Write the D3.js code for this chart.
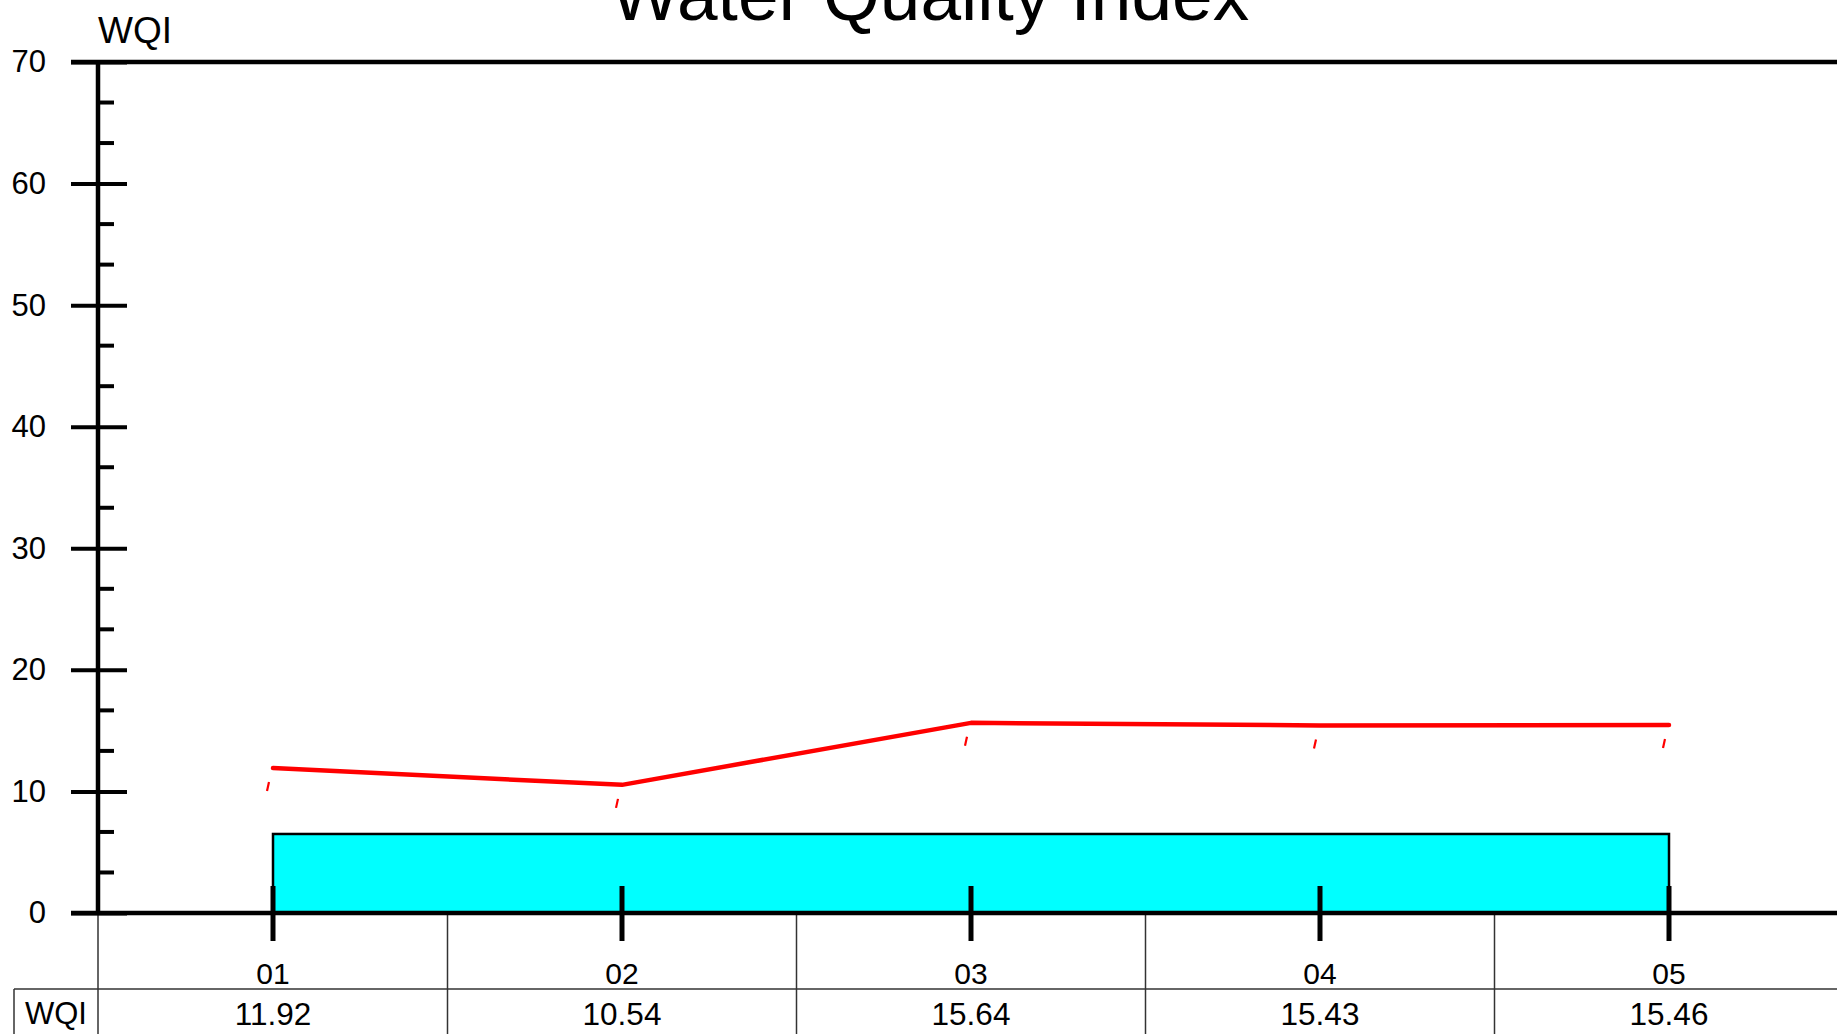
<!DOCTYPE html>
<html>
<head>
<meta charset="utf-8">
<script src="https://cdn.jsdelivr.net/npm/d3@7"></script>
<style>
  body { margin: 0; background: #fff; overflow: hidden; }
  svg { display: block; font-family: "Liberation Sans", Arial, sans-serif; }
</style>
</head>
<body>
<svg id="chart" width="1837" height="1034"></svg>
<script>
// chart values
const categories = ["01", "02", "03", "04", "05"];
const wqiValues = [11.92, 10.54, 15.64, 15.43, 15.46];
const bandValue = 6.5; // cyan band across all samples
const yMajorTicks = [0, 10, 20, 30, 40, 50, 60, 70];
const rowLabel = "WQI";

const W = 1837, H = 1034;
const axisX = 98;
const svg = d3.select("#chart");

const y = d3.scaleLinear().domain([0, 70]).range([913, 62]);
const x = d3.scalePoint().domain(categories).range([273, 1669]);
const step = x.step();

// title
svg.append("text")
    .attr("x", 930).attr("y", 20)
    .attr("text-anchor", "middle")
    .style("font-size", "73px")
    .text("Water Quality Index");

// y axis title
svg.append("text")
    .attr("x", axisX).attr("y", 43)
    .style("font-size", "37px")
    .text("WQI");

// cyan band
svg.append("rect")
    .attr("x", x(categories[0]))
    .attr("y", y(bandValue))
    .attr("width", x(categories[categories.length - 1]) - x(categories[0]))
    .attr("height", y(0) - y(bandValue))
    .attr("fill", "#00ffff")
    .attr("stroke", "#000")
    .attr("stroke-width", 2.5);

// table grid
const grid = svg.append("g").attr("stroke", "#333").attr("stroke-width", 1.5);
grid.append("line").attr("x1", axisX).attr("x2", axisX).attr("y1", y(0)).attr("y2", H);
categories.forEach(c => {
    grid.append("line")
        .attr("x1", x(c) + step / 2).attr("x2", x(c) + step / 2)
        .attr("y1", y(0)).attr("y2", H);
});
grid.append("line").attr("x1", 14).attr("x2", W).attr("y1", 989).attr("y2", 989);
grid.append("line").attr("x1", 14).attr("x2", 14).attr("y1", 989).attr("y2", H);

// y axis
const yAxis = svg.append("g")
    .attr("transform", `translate(${axisX},0)`)
    .call(d3.axisLeft(y).tickValues(yMajorTicks).tickFormat(d3.format("d")).tickSize(0).tickPadding(52));
yAxis.select(".domain").remove();
yAxis.selectAll(".tick line")
    .attr("x1", -27).attr("x2", 29)
    .attr("stroke", "#000").attr("stroke-width", 4);
yAxis.selectAll(".tick text")
    .style("font-size", "31px")
    .attr("fill", "#000");

// minor ticks (thirds between labelled ticks)
const minor = [];
yMajorTicks.slice(0, -1).forEach(t => { minor.push(t + 10 / 3, t + 20 / 3); });
svg.append("g").selectAll("line")
    .data(minor)
    .join("line")
    .attr("x1", axisX).attr("x2", axisX + 16)
    .attr("y1", d => y(d)).attr("y2", d => y(d))
    .attr("stroke", "#000").attr("stroke-width", 4);

// axis lines
svg.append("line").attr("x1", axisX).attr("x2", axisX).attr("y1", y(70)).attr("y2", y(0))
    .attr("stroke", "#000").attr("stroke-width", 4.5);
svg.append("line").attr("x1", 71).attr("x2", W).attr("y1", y(70)).attr("y2", y(70))
    .attr("stroke", "#000").attr("stroke-width", 4.5);
svg.append("line").attr("x1", 71).attr("x2", W).attr("y1", y(0)).attr("y2", y(0))
    .attr("stroke", "#000").attr("stroke-width", 4.5);

// x ticks
svg.append("g").selectAll("line")
    .data(categories)
    .join("line")
    .attr("x1", d => x(d)).attr("x2", d => x(d))
    .attr("y1", 886).attr("y2", 941)
    .attr("stroke", "#000").attr("stroke-width", 5);

// red WQI line
const line = d3.line().x((d, i) => x(categories[i])).y(d => y(d));
svg.append("path")
    .datum(wqiValues)
    .attr("d", line)
    .attr("fill", "none")
    .attr("stroke", "#ff0000")
    .attr("stroke-width", 4.5)
    .attr("stroke-linejoin", "round")
    .attr("stroke-linecap", "round");

// small red marks under each point
svg.append("g").selectAll("line")
    .data(wqiValues)
    .join("line")
    .attr("x1", (d, i) => x(categories[i]) - 6).attr("y1", d => y(d) + 23)
    .attr("x2", (d, i) => x(categories[i]) - 4).attr("y2", d => y(d) + 14)
    .attr("stroke", "#ff0000").attr("stroke-width", 2.2);

// table text
svg.append("g").selectAll("text")
    .data(categories)
    .join("text")
    .attr("x", d => x(d)).attr("y", 984)
    .attr("text-anchor", "middle")
    .style("font-size", "30px")
    .text(d => d);
svg.append("g").selectAll("text")
    .data(wqiValues)
    .join("text")
    .attr("x", (d, i) => x(categories[i])).attr("y", 1025)
    .attr("text-anchor", "middle")
    .style("font-size", "31.5px")
    .text(d => d.toFixed(2));
svg.append("text")
    .attr("x", 56).attr("y", 1024)
    .attr("text-anchor", "middle")
    .style("font-size", "31px")
    .text(rowLabel);
</script>
</body>
</html>
